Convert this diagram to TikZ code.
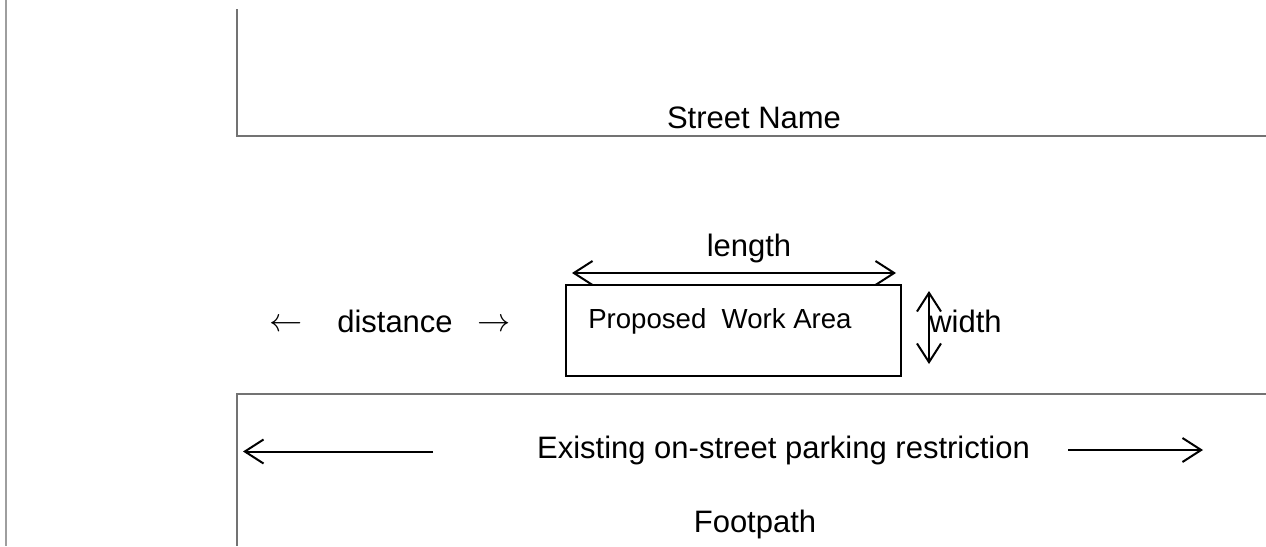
\documentclass[tikz,border=0pt]{standalone}
\usepackage{fontspec}
\setmainfont{Liberation Sans}
\usetikzlibrary{arrows.meta}
\definecolor{edge}{rgb}{0.45,0.45,0.45}
\definecolor{lightedge}{rgb}{0.62,0.62,0.62}

\begin{document}
\begin{tikzpicture}[x=0.75pt,y=-0.75pt,
		label/.style={inner sep=0pt,font=\fontsize{23.25}{28}\selectfont},
		dim/.style={black,line width=1.5pt,{Straight Barb[length=14pt,width=18pt]}-{Straight Barb[length=14pt,width=18pt]}},
		single/.style={black,line width=1.5pt,-{Straight Barb[length=14pt,width=18pt]}}]
		\useasboundingbox (0,0) rectangle (1266,546);
		
		% kerb lines
		\draw[lightedge, line width=1.5pt] (5.5,0) -- (5.5,546);
		\draw[edge, line width=1.5pt] (237,9) -- (237,136) -- (1266,136);
		\draw[edge, line width=1.5pt] (1266,394) -- (237,394) -- (237,546);
		
		\node[label] (street) at (754,118) {Street Name};
		\node[label] (footpath) at (755,524) {Footpath};
		
		% work area
		\node[draw, black, line width=1.2pt, minimum width=335*0.75pt, minimum height=91*0.75pt, inner sep=0pt] (work) at (733.5,330.5) {};
		\node[inner sep=0pt, font=\fontsize{20.7}{24}\selectfont, anchor=west] (worktext) at (588,321) {Proposed\ \ Work Area};
		
		\coordinate (lenL) at (572,273);
		\coordinate (lenR) at (896,273);
		\draw[dim] (lenL) -- (lenR);
		\node[label] (length) at (749,248) {length};
		
		\coordinate (widT) at (929,291);
		\coordinate (widB) at (929,364);
		\draw[dim] (widT) -- (widB);
		\node[label, anchor=west] (width) at (929,321) {width};
		
		\node[label] (distL) at (286.5,325) {$\leftarrow$};
		\node[label] (distance) at (395,321) {distance};
		\node[label] (distR) at (494,325) {$\rightarrow$};
		
		% parking restriction
		\node[label] (parking) at (783.5,450) {Existing on-street parking restriction};
		\coordinate (parkLa) at (433,451.5);
		\coordinate (parkLb) at (243,451.5);
		\coordinate (parkRa) at (1068,450);
		\coordinate (parkRb) at (1203,450);
		\draw[single] (parkLa) -- (parkLb);
		\draw[single] (parkRa) -- (parkRb);
	\end{tikzpicture}
\end{document}
